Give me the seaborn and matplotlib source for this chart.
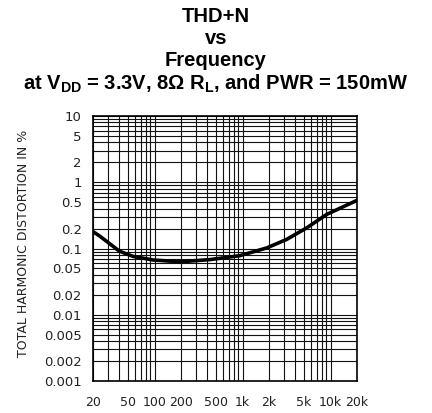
import matplotlib
matplotlib.use("Agg")
import matplotlib.pyplot as plt
import matplotlib.ticker as mticker
import numpy as np
import pandas as pd
import seaborn as sns

# THD+N curve
freq_hz = [20, 24, 40, 57, 97, 195, 427, 936, 1884, 3170, 5370, 9050, 20000]
thd_pct = [0.18, 0.153, 0.091, 0.076, 0.067, 0.063, 0.068, 0.078, 0.102, 0.137, 0.205, 0.327, 0.533]

y_ticks = [0.001, 0.002, 0.005, 0.01, 0.02, 0.05, 0.1, 0.2, 0.5, 1, 2, 5, 10]
y_labels = ["0.001", "0.002", "0.005", "0.01", "0.02", "0.05", "0.1", "0.2", "0.5", "1", "2", "5", "10"]
x_ticks = [20, 50, 100, 200, 500, 1000, 2000, 5000, 10000, 20000]
x_labels = ["20", "50", "100", "200", "500", "1k", "2k", "5k", "10k", "20k"]

title_lines = ["THD+N", "vs", "Frequency",
               r"at V$_\mathbf{DD}$ = 3.3V, 8Ω R$_\mathbf{L}$, and PWR = 150mW"]

sns.set_style("white")
plt.rcParams["font.family"] = ["DejaVu Sans"]
plt.rcParams["mathtext.fontset"] = "custom"
plt.rcParams["mathtext.bf"] = "Liberation Sans:bold"
plt.rcParams["mathtext.rm"] = "Liberation Sans"

df = pd.DataFrame({"freq": freq_hz, "thd": thd_pct})

fig = plt.figure(figsize=(4.32, 4.13), dpi=100)
ax = fig.add_axes([93 / 432, 32 / 413, 264 / 432, 265 / 413])

sns.lineplot(data=df, x="freq", y="thd", ax=ax, color="black", lw=2.6)
ax.set_xscale("log")
ax.set_yscale("log")
ax.set_xlim(20, 20000)
ax.set_ylim(0.001, 10)

ax.xaxis.set_major_locator(mticker.FixedLocator(x_ticks))
ax.xaxis.set_major_formatter(mticker.FixedFormatter(x_labels))
ax.xaxis.set_minor_locator(mticker.LogLocator(base=10, subs=np.arange(1, 10)))
ax.xaxis.set_minor_formatter(mticker.NullFormatter())
ax.yaxis.set_major_locator(mticker.FixedLocator(y_ticks))
ax.yaxis.set_major_formatter(mticker.FixedFormatter(y_labels))
ax.yaxis.set_minor_locator(mticker.LogLocator(base=10, subs=np.arange(1, 10)))
ax.yaxis.set_minor_formatter(mticker.NullFormatter())

ax.grid(which="both", color="#111111", lw=0.8)
ax.tick_params(which="both", length=0, colors="#222222")
ax.tick_params(axis="y", pad=8, labelsize=9.5)
ax.tick_params(axis="x", pad=11, labelsize=9)
for s in ax.spines.values():
    s.set_color("black")
    s.set_linewidth(1.2)

ax.set_xlabel("")
ax.set_ylabel("TOTAL HARMONIC DISTORTION IN %", fontsize=9, color="#222222")
ax.yaxis.set_label_coords(-63 / 264, (381 - 243) / 265)

for i, line in enumerate(title_lines):
    fig.text(0.5, 1 - (16 + i * 22.5) / 413, line, ha="center", va="center",
             fontsize=14.5, fontweight="bold", family="Liberation Sans", color="black")

fig.savefig("out.png", dpi=100)
